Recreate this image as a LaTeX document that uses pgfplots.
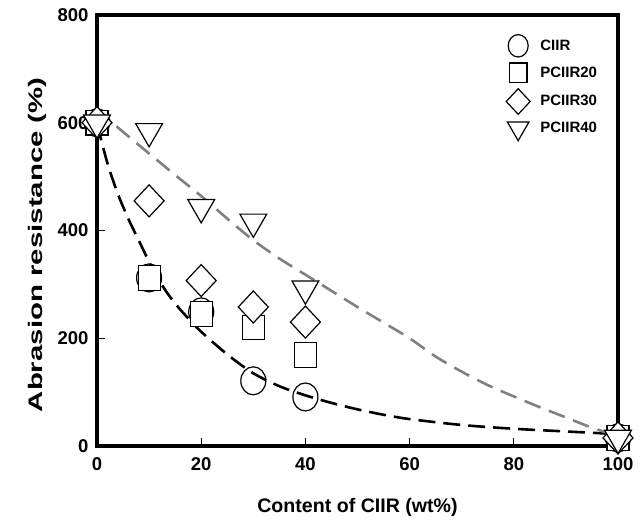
\documentclass[border=0pt]{standalone}
\usepackage{fontspec}
\setmainfont{Liberation Sans}
\usepackage{pgfplots}
\pgfplotsset{compat=1.18}
\begin{document}
\begin{tikzpicture}
\begin{axis}[
  scale only axis, width=521pt, height=431pt,
  xmin=0, xmax=100, ymin=0, ymax=800,
  xtick={0,20,40,60,80,100}, ytick={0,200,400,600,800},
  tick pos=left, tick align=inside,
  major tick length=8pt,
  every tick/.style={black, line width=1.2pt},
  axis line style={line width=4pt},
  clip=false,
  /pgf/number format/assume math mode=true,
  ticklabel style={font=\fontsize{18.5}{18.5}\selectfont\bfseries},
  xticklabel style={yshift=-8pt},
  yticklabel style={xshift=-5pt},
  xlabel={Content of CIIR (wt\%)},
  ylabel={\scalebox{1.5}[1]{Abrasion resistance (\%)}},
  label style={font=\fontsize{19.6}{20}\selectfont\bfseries},
  xlabel style={at={(axis description cs:0.5,-0.1415)}, anchor=center},
  ylabel style={at={(axis description cs:-0.1152,0.467)}, anchor=center},
  legend style={draw=none, fill=none, at={(0.785,0.955)}, anchor=north west,
    font=\fontsize{15}{15}\selectfont\bfseries, row sep=6pt, inner sep=0pt},
  legend cell align=left,
  legend image code/.code={\path (0pt,0pt) (30pt,0pt);
    \draw[#1, every mark/.append style={scale=0.8}] plot coordinates {(10pt,0pt)};},
]
\addplot[only marks, mark=o, mark size=12.5pt, mark options={yscale=1.12, line width=1.2pt, fill=white, draw=black}]
  coordinates {(0,600) (10,312) (20,249) (30,121) (40,91) (100,15)};
\addlegendentry{CIIR}
\addplot[only marks, mark=square*, mark size=11pt, mark options={yscale=1.12, line width=1.2pt, fill=white, draw=black}]
  coordinates {(0,600) (10,312) (20,245) (30,220) (40,169) (100,15)};
\addlegendentry{PCIIR20}
\addplot[only marks, mark=diamond*, mark size=16pt, mark options={xscale=1.25, line width=1.2pt, fill=white, draw=black}]
  coordinates {(0,600) (10,455) (20,307) (30,258) (40,230) (100,15)};
\addlegendentry{PCIIR30}
\addplot[only marks, mark=triangle*, mark size=15.5pt, mark options={rotate=180, line width=1.2pt, fill=white, draw=black}]
  coordinates {(0,600) (10,584) (20,443) (30,416) (40,292) (100,15)};
\addlegendentry{PCIIR40}
\addplot[forget plot, smooth, black, line width=2.6pt, dash pattern=on 17pt off 8pt]
  coordinates {(0,598) (2,525) (4,468) (6,422) (8,382) (10,342) (12,306) (14,277) (16,253) (18,232) (20,212) (25,170) (30,135) (35,111) (40,94) (45,80) (50,68) (55,58) (60,50) (70,39) (80,32) (90,27) (100,22)};
\addplot[forget plot, smooth, gray, line width=2.6pt, dash pattern=on 17pt off 9pt]
  coordinates {(0,625) (5,583) (10,543) (15,503) (20,464) (25,422) (30,382) (35,348) (40,318) (45,288) (50,258) (55,229) (60,200) (65,166) (70,138) (75,113) (80,92) (85,72) (90,53) (95,34) (100,18)};
\coordinate (O) at (rel axis cs:0,0);
\end{axis}
\pgfresetboundingbox
\path (O) ++(-97pt,-75pt) rectangle ++(644pt,521pt);
\end{tikzpicture}
\end{document}
